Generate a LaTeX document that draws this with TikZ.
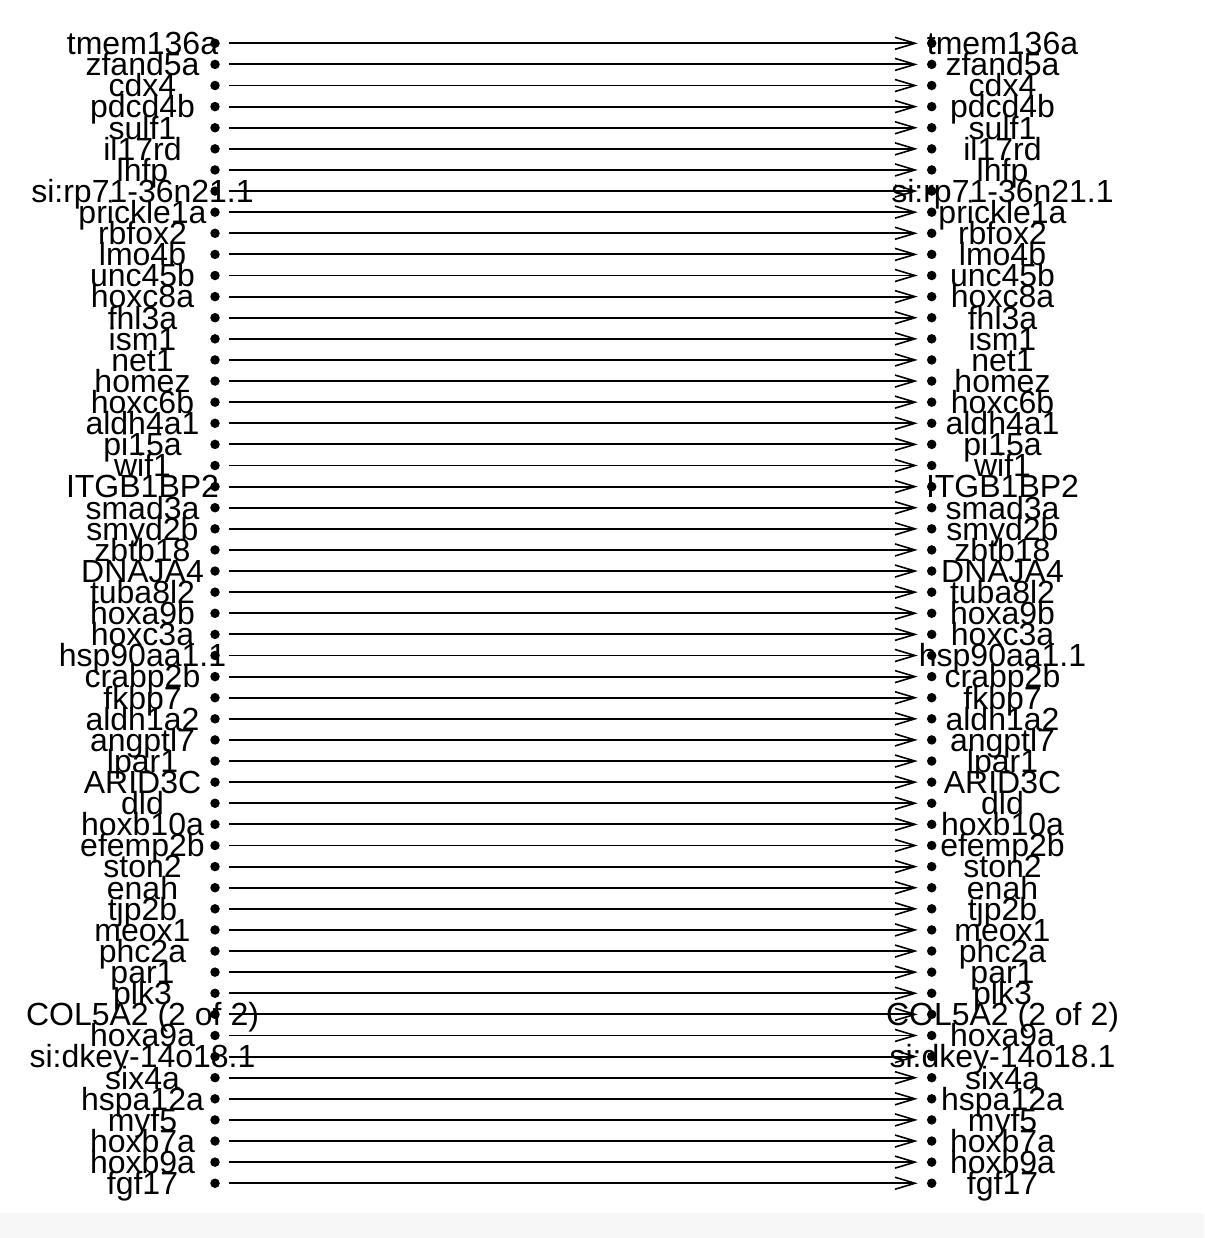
\documentclass[tikz,border=0pt]{standalone}
\usepackage{fontspec}
\setmainfont{Liberation Sans}
\usetikzlibrary{arrows.meta}
\begin{document}
\begin{tikzpicture}[x=1pt,y=-1pt,
  lbl/.style={font=\fontsize{32}{32}\selectfont, anchor=base, inner sep=0pt},
  gdot/.style={circle, fill=black, inner sep=0pt, minimum size=9.5pt},
  link/.style={line width=1.9pt, -{Straight Barb[length=20pt,width=12pt,line width=1.6pt]}, shorten <=9pt, shorten >=9pt}]
\useasboundingbox (0,0) rectangle (1204,1238);
\fill[black!3] (0,1213) rectangle (1204,1238);
\foreach \n [count=\i] in {tmem136a,zfand5a,cdx4,pdcd4b,sulf1,il17rd,lhfp,si:rp71-36n21.1,prickle1a,rbfox2,lmo4b,unc45b,hoxc8a,fhl3a,ism1,net1,homez,hoxc6b,aldh4a1,pi15a,wif1,ITGB1BP2,smad3a,smyd2b,zbtb18,DNAJA4,tuba8l2,hoxa9b,hoxc3a,hsp90aa1.1,crabp2b,fkbp7,aldh1a2,angptl7,lpar1,ARID3C,dld,hoxb10a,efemp2b,ston2,enah,tjp2b,meox1,phc2a,par1,plk3,{COL5A2 (2 of 2)},hoxa9a,si:dkey-14o18.1,six4a,hspa12a,myf5,hoxb7a,hoxb9a,fgf17} {
  \pgfmathsetmacro\yy{43.3+(\i-1)*21.11}
  \node[gdot] (dl\i) at (215,\yy) {};
  \node[gdot] (dr\i) at (931.7,\yy) {};
  \draw[link] (dl\i) -- (dr\i);
  \node[lbl] (L\i) at (142.5,\yy+11.3) {\n};
  \node[lbl] (R\i) at (1002.5,\yy+11.3) {\n};
}
\end{tikzpicture}
\end{document}
